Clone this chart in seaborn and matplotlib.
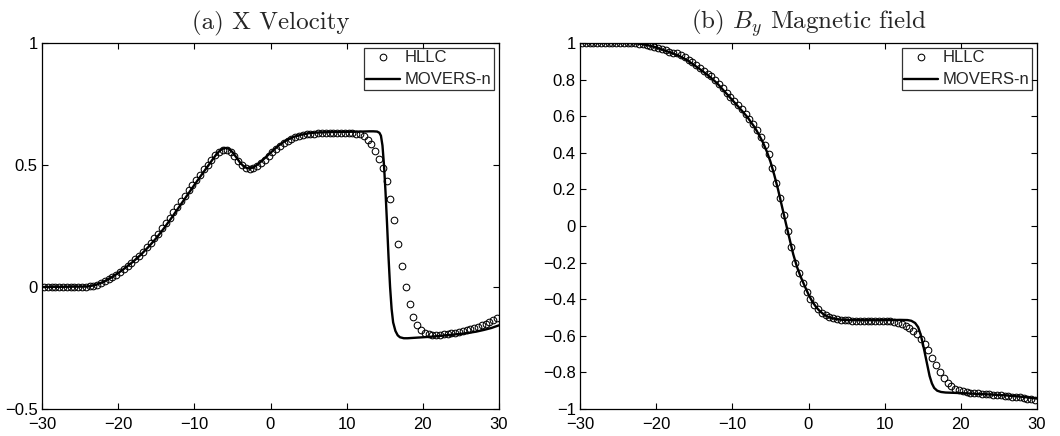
import numpy as np
import matplotlib
matplotlib.use("Agg")
import matplotlib.pyplot as plt
import seaborn as sns

# ---------------- data ----------------
# HLLC cell centres (120 cells on [-30, 30])
x_cells = np.arange(-29.75, 30.0, 0.5)

vel_hllc = [
    0.0, 0.0, 0.0, 0.0, 0.0, 0.0, 0.0, 0.0, 0.0, 0.0, 0.0, 0.001,
    0.003, 0.006, 0.010, 0.016, 0.023, 0.031, 0.040, 0.050, 0.061, 0.073,
    0.086, 0.100, 0.114, 0.129, 0.145, 0.162, 0.180, 0.199, 0.219, 0.240,
    0.261, 0.283, 0.306, 0.328, 0.351, 0.373, 0.396, 0.418, 0.440, 0.461,
    0.482, 0.502, 0.521, 0.539, 0.553, 0.562, 0.563, 0.555, 0.538, 0.518,
    0.500, 0.488, 0.483, 0.486, 0.495, 0.508, 0.522, 0.537, 0.552, 0.566,
    0.579, 0.590, 0.600, 0.607, 0.613, 0.618, 0.622, 0.625, 0.627, 0.629,
    0.630, 0.631, 0.631, 0.632, 0.632, 0.632, 0.632, 0.632, 0.632, 0.631,
    0.629, 0.625, 0.617, 0.604, 0.585, 0.558, 0.525, 0.486, 0.435, 0.360,
    0.275, 0.178, 0.085, 0.000, -0.070, -0.122, -0.155, -0.176, -0.188, -0.194,
    -0.196, -0.196, -0.195, -0.194, -0.192, -0.190, -0.187, -0.184, -0.181, -0.177,
    -0.173, -0.168, -0.163, -0.157, -0.150, -0.143, -0.135, -0.127,
]

vel_line_x = [
    -30, -24, -23, -22, -21, -20, -19, -18, -17, -16, -15, -14, -13, -12, -11,
    -10, -9, -8, -7.5, -7, -6.5, -6, -5.5, -5, -4.5, -4, -3.5, -3, -2.5, -2,
    -1.5, -1, 0, 1, 2, 3, 4, 5, 6, 8, 10, 12, 13, 13.5, 14, 14.3, 14.5, 14.7,
    14.9, 15.1, 15.3, 15.5, 15.7, 15.9, 16.1, 16.4, 16.7, 17.0, 17.5, 18, 19,
    20, 21, 22, 23, 24, 25, 26, 27, 28, 29, 30,
]
vel_line_y = [
    0.0, 0.002, 0.008, 0.020, 0.037, 0.057, 0.080, 0.105, 0.133, 0.165, 0.200,
    0.240, 0.283, 0.328, 0.373, 0.418, 0.462, 0.505, 0.527, 0.548, 0.563, 0.570,
    0.567, 0.553, 0.532, 0.510, 0.494, 0.486, 0.487, 0.495, 0.507, 0.521, 0.550,
    0.578, 0.600, 0.615, 0.624, 0.630, 0.633, 0.635, 0.636, 0.637, 0.638, 0.638,
    0.637, 0.632, 0.620, 0.580, 0.500, 0.390, 0.260, 0.120, 0.000, -0.090,
    -0.145, -0.180, -0.198, -0.206, -0.210, -0.210, -0.208, -0.206, -0.204,
    -0.201, -0.198, -0.195, -0.192, -0.188, -0.183, -0.176, -0.168, -0.157,
]

by_hllc = [
    1.0, 1.0, 1.0, 1.0, 1.0, 1.0, 1.0, 1.0, 1.0, 1.0, 1.0, 1.0, 1.0, 1.0,
    0.999, 0.997, 0.994, 0.990, 0.985, 0.979, 0.973, 0.967, 0.960, 0.953,
    0.946, 0.945, 0.935, 0.922, 0.908, 0.894, 0.879, 0.864, 0.849, 0.833,
    0.817, 0.797, 0.775, 0.752, 0.728, 0.705, 0.683, 0.661, 0.638, 0.612,
    0.585, 0.555, 0.522, 0.484, 0.443, 0.395, 0.317, 0.236, 0.153, 0.058,
    -0.028, -0.117, -0.200, -0.258, -0.310, -0.358, -0.398, -0.430, -0.455, -0.474,
    -0.488, -0.498, -0.505, -0.509, -0.512, -0.514, -0.516, -0.517, -0.518, -0.518,
    -0.518, -0.518, -0.518, -0.518, -0.518, -0.518, -0.518, -0.520, -0.523, -0.528,
    -0.535, -0.545, -0.558, -0.573, -0.592, -0.615, -0.645, -0.680, -0.720, -0.762,
    -0.800, -0.832, -0.857, -0.875, -0.888, -0.897, -0.903, -0.907, -0.910, -0.912,
    -0.914, -0.916, -0.918, -0.920, -0.922, -0.924, -0.926, -0.928, -0.930, -0.932,
    -0.935, -0.937, -0.940, -0.943, -0.946, -0.950,
]

by_line_x = [
    -30, -24, -23, -22, -21, -20, -19, -18, -17, -16, -15, -14, -13, -12, -11,
    -10, -9, -8, -7, -6.5, -6, -5.5, -5, -4.5, -4, -3.5, -3, -2.5, -2, -1.5,
    -1, -0.5, 0, 0.5, 1, 1.5, 2, 2.5, 3, 4, 5, 7, 9, 11, 12, 13, 13.5, 14,
    14.4, 14.7, 15.0, 15.3, 15.6, 15.9, 16.2, 16.5, 16.9, 17.4, 18, 20, 22, 24,
    26, 28, 30,
]
by_line_y = [
    1.0, 1.0, 0.999, 0.995, 0.987, 0.975, 0.961, 0.946, 0.930, 0.908, 0.879,
    0.849, 0.817, 0.780, 0.734, 0.688, 0.642, 0.594, 0.535, 0.498, 0.458, 0.410,
    0.352, 0.280, 0.200, 0.110, 0.020, -0.068, -0.155, -0.225, -0.280, -0.328,
    -0.374, -0.413, -0.443, -0.466, -0.483, -0.495, -0.503, -0.511, -0.514,
    -0.515, -0.515, -0.514, -0.513, -0.514, -0.518, -0.530, -0.553, -0.590,
    -0.640, -0.700, -0.760, -0.820, -0.860, -0.885, -0.900, -0.907, -0.910,
    -0.913, -0.917, -0.921, -0.926, -0.933, -0.943,
]

titles = ["(a) X Velocity", r"(b) $B_y$ Magnetic field"]
legend_labels = ["HLLC", "MOVERS-n"]
xticks = [-30, -20, -10, 0, 10, 20, 30]
yticks_a = [-0.5, 0, 0.5, 1]
ytick_labels_a = ["\u22120.5", "0", "0.5", "1"]
yticks_b = [-1, -0.8, -0.6, -0.4, -0.2, 0, 0.2, 0.4, 0.6, 0.8, 1]
ytick_labels_b = ["\u22121", "\u22120.8", "\u22120.6", "\u22120.4", "\u22120.2",
                  "0", "0.2", "0.4", "0.6", "0.8", "1"]
xtick_labels = ["\u221230", "\u221220", "\u221210", "0", "10", "20", "30"]

# ---------------- style ----------------
sns.set_style("ticks")
plt.rcParams["font.family"] = ["Liberation Sans", "DejaVu Sans"]
plt.rcParams["mathtext.fontset"] = "cm"

fig = plt.figure(figsize=(10.6, 4.36), dpi=100)
axA = fig.add_axes([42 / 1060, 27 / 436, 457 / 1060, 366 / 436])
axB = fig.add_axes([580 / 1060, 27 / 436, 457 / 1060, 366 / 436])

panels = [
    (axA, vel_hllc, vel_line_x, vel_line_y, (-0.5, 1), yticks_a, ytick_labels_a),
    (axB, by_hllc, by_line_x, by_line_y, (-1, 1), yticks_b, ytick_labels_b),
]

for i, (ax, hy, lx, ly, ylim, yt, ytl) in enumerate(panels):
    sns.lineplot(x=x_cells, y=hy, ax=ax, linestyle="none", marker="o",
                 markersize=4.8, markerfacecolor="none", markeredgecolor="black",
                 markeredgewidth=0.75, color="black", label=legend_labels[0],
                 sort=False, estimator=None)
    sns.lineplot(x=lx, y=ly, ax=ax, color="black", linewidth=1.7,
                 label=legend_labels[1], sort=False, estimator=None)
    ax.set_xlim(-30, 30)
    ax.set_ylim(*ylim)
    ax.set_xticks(xticks)
    ax.set_xticklabels(xtick_labels)
    ax.set_yticks(yt)
    ax.set_yticklabels(ytl)
    ax.tick_params(direction="in", length=4.5, width=0.8, top=True, right=True,
                   labelsize=12, colors="black")
    ax.tick_params(axis="x", pad=5.5)
    ax.tick_params(axis="y", pad=3)
    for s in ax.spines.values():
        s.set_visible(True)
        s.set_color("black")
        s.set_linewidth(0.9)
    ax.set_xlabel("")
    ax.set_ylabel("")
    ax.set_title(titles[i], fontsize=18, family="cmr10", pad=10)
    leg = ax.legend(loc="upper right", frameon=True, fancybox=False,
                    edgecolor="black", fontsize=12, borderpad=0.15,
                    labelspacing=0.42, handlelength=2.0, handletextpad=0.3,
                    borderaxespad=0.3)
    leg.get_frame().set_linewidth(0.9)

fig.savefig("out.png", dpi=100)
